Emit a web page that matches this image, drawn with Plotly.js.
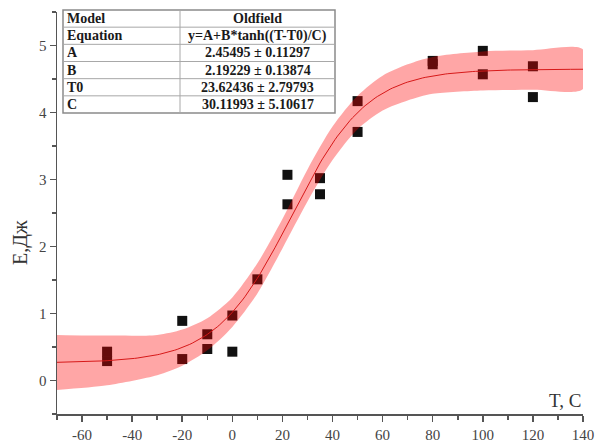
<!DOCTYPE html>
<html>
<head>
<meta charset="utf-8">
<script src="https://cdn.plot.ly/plotly-3.0.1.min.js"></script>
<style>html,body{margin:0;padding:0;background:#fff}#chart{width:598px;height:446px}</style>
</head>
<body>
<div id="chart"></div>
<script>
// ---- data ----
const pointT = [-50, -50, -20, -20, -10, -10, 0, 0, 10, 22, 22, 35, 35, 50, 50, 80, 80, 100, 100, 120, 120];
const pointE = [0.43, 0.29, 0.89, 0.32, 0.69, 0.47, 0.97, 0.43, 1.51, 3.07, 2.63, 3.02, 2.78, 4.17, 3.71, 4.77, 4.72, 4.92, 4.57, 4.69, 4.23];

// fit parameters (from the table)
const paramNames = ['A', 'B', 'T0', 'C'];
const paramValues = [2.45495, 2.19229, 23.62436, 30.11993];
const paramErrors = [0.11297, 0.13874, 2.79793, 5.10617];
const modelName = 'Oldfield';
const equation = 'y=A+B*tanh((T-T0)/C)';

// confidence band edges
const bandT     = [-70, -50, -30, -20, -10, 0, 10, 20, 30, 40, 50, 60, 70, 80, 100, 120, 140];
const bandUpper = [0.68, 0.67, 0.68, 0.76, 0.93, 1.24, 1.75, 2.41, 3.15, 3.79, 4.25, 4.55, 4.72, 4.83, 4.91, 4.93, 4.94];
const bandLower = [-0.14, -0.07, 0.08, 0.22, 0.45, 0.80, 1.30, 1.97, 2.67, 3.29, 3.75, 4.03, 4.18, 4.28, 4.33, 4.34, 4.35];

// tick labels
const xTickVals = [-60, -40, -20, 0, 20, 40, 60, 80, 100, 120, 140];
const xTickText = ['-60', '-40', '-20', '0', '20', '40', '60', '80', '100', '120', '140'];
const yTickVals = [0, 1, 2, 3, 4, 5];
const yTickText = ['0', '1', '2', '3', '4', '5'];

const xTitle = 'T, C';
const yTitle = 'Е,Дж';

// ---- fitted curve from the model ----
const [A, B, T0, C] = paramValues;
const fitT = [], fitE = [];
for (let t = -70; t <= 140; t += 1) { fitT.push(t); fitE.push(A + B * Math.tanh((t - T0) / C)); }

const W = 598, H = 446;
const L = 57, R = 583, TOP = 12, BOT = 414;
const px2x = p => (p - L) / (R - L);
const py2y = p => (BOT - p) / (BOT - TOP);

const serif = 'Liberation Serif, Times New Roman, serif';

const traces = [
  { x: pointT, y: pointE, type: 'scatter', mode: 'markers',
    marker: { symbol: 'square', size: 10, color: '#111' }, hoverinfo: 'skip' },
  { x: bandT.concat(bandT.slice().reverse()), y: bandUpper.concat(bandLower.slice().reverse()),
    type: 'scatter', mode: 'lines', fill: 'toself', fillcolor: 'rgba(255,0,0,0.35)',
    line: { width: 0, shape: 'spline', smoothing: 0.8 }, hoverinfo: 'skip' },
  { x: fitT, y: fitE, type: 'scatter', mode: 'lines',
    line: { color: 'rgb(215,25,25)', width: 1 }, hoverinfo: 'skip' }
];

// ---- table ----
const tL = 63, tR = 335, tTop = 10, tBot = 113, tMid = 180;
const rowH = (tBot - tTop) / 6;
const shapes = [];
const annotations = [];
shapes.push({ type: 'rect', xref: 'paper', yref: 'paper', x0: px2x(tL), x1: px2x(tR), y0: py2y(tBot), y1: py2y(tTop),
  fillcolor: '#fff', line: { color: '#8a8a8a', width: 1.5 }, layer: 'above' });
for (let i = 1; i < 6; i++) {
  const yy = py2y(tTop + i * rowH);
  shapes.push({ type: 'line', xref: 'paper', yref: 'paper', x0: px2x(tL), x1: px2x(tR), y0: yy, y1: yy,
    line: { color: '#a8a8a8', width: 1 }, layer: 'above' });
}
shapes.push({ type: 'line', xref: 'paper', yref: 'paper', x0: px2x(tMid), x1: px2x(tMid), y0: py2y(tBot), y1: py2y(tTop),
  line: { color: '#a8a8a8', width: 1 }, layer: 'above' });

const leftCol = ['Model', 'Equation'].concat(paramNames);
const rightCol = [modelName, equation].concat(paramValues.map((v, i) => v.toFixed(5) + ' ± ' + paramErrors[i].toFixed(5)));
for (let i = 0; i < 6; i++) {
  const yc = py2y(tTop + (i + 0.5) * rowH);
  annotations.push({ xref: 'paper', yref: 'paper', x: px2x(tL + 2), y: yc, xanchor: 'left', yanchor: 'middle',
    text: '<b>' + leftCol[i] + '</b>', showarrow: false, font: { family: serif, size: 14, color: '#1a1a1a' } });
  annotations.push({ xref: 'paper', yref: 'paper', x: px2x((tMid + tR) / 2), y: yc, xanchor: 'center', yanchor: 'middle',
    text: '<b>' + rightCol[i] + '</b>', showarrow: false, font: { family: serif, size: 14, color: '#1a1a1a' } });
}
annotations.push({ xref: 'paper', yref: 'paper', x: 1, y: py2y(400), xanchor: 'right', yanchor: 'middle',
  text: xTitle, showarrow: false, font: { family: serif, size: 19, color: '#333' } });
annotations.push({ xref: 'paper', yref: 'paper', x: px2x(20), y: py2y(243), xanchor: 'center', yanchor: 'middle',
  textangle: -90, text: yTitle, showarrow: false, font: { family: serif, size: 20, color: '#333' } });

const axisCommon = {
  showgrid: false, zeroline: false, showline: true, linecolor: '#555', linewidth: 1.5,
  ticks: 'outside', ticklen: 6, tickwidth: 1.5, tickcolor: '#555', tickmode: 'array',
  tickfont: { family: serif, size: 15, color: '#444' }, fixedrange: true
};

const layout = {
  width: W, height: H,
  margin: { l: L, r: W - R, t: TOP, b: H - BOT, pad: 0 },
  paper_bgcolor: '#fff', plot_bgcolor: '#fff', showlegend: false,
  xaxis: Object.assign({}, axisCommon, { range: [-70, 140], tickvals: xTickVals, ticktext: xTickText,
    minor: { tickmode: 'linear', dtick: 10, tick0: 0, ticks: 'outside', ticklen: 4, tickwidth: 1.5, tickcolor: '#555' } }),
  yaxis: Object.assign({}, axisCommon, { range: [-0.5, 5.5], tickvals: yTickVals, ticktext: yTickText,
    minor: { tickmode: 'linear', dtick: 0.5, tick0: 0, ticks: 'outside', ticklen: 4, tickwidth: 1.5, tickcolor: '#555' } }),
  shapes: shapes, annotations: annotations
};

Plotly.newPlot('chart', traces, layout, { displayModeBar: false, staticPlot: true });
</script>
</body>
</html>
